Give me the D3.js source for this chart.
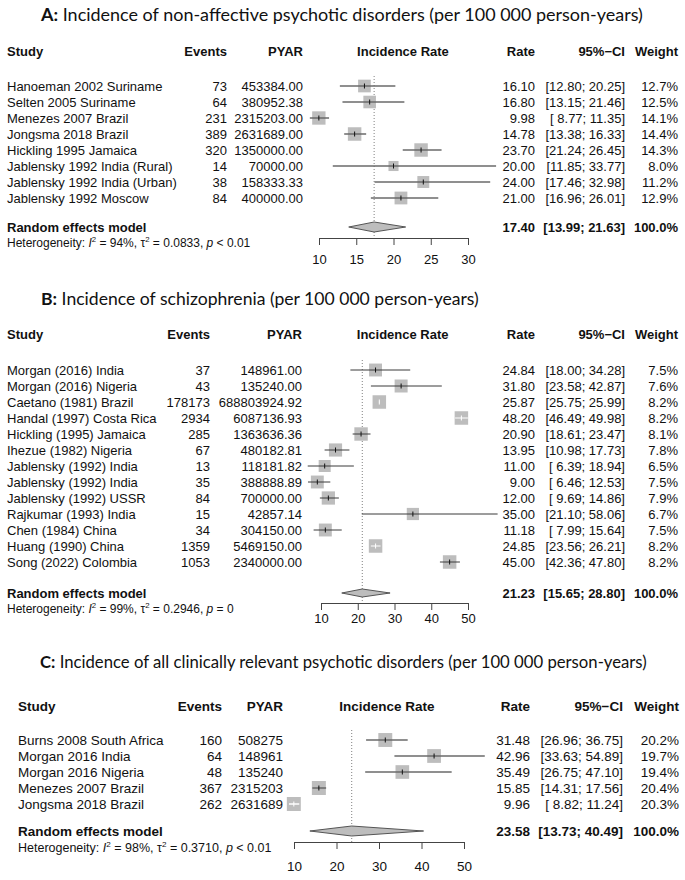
<!DOCTYPE html>
<html><head><meta charset="utf-8">
<script src="https://cdn.jsdelivr.net/npm/d3@7/dist/d3.min.js"></script>
<style>body{margin:0;background:#fff}svg{display:block}</style>
</head><body>
<svg id="chart" width="685" height="880"></svg>
<script>
// ---------- Panel A data ----------
const titleA = ["A:", " Incidence of non-affective psychotic disorders (per 100 000 person-years)"];
const studiesA = ["Hanoeman 2002 Suriname","Selten 2005 Suriname","Menezes 2007 Brazil","Jongsma 2018 Brazil","Hickling 1995 Jamaica","Jablensky 1992 India (Rural)","Jablensky 1992 India (Urban)","Jablensky 1992 Moscow"];
const eventsA = [73,64,231,389,320,14,38,84];
const pyarA = [453384.00,380952.38,2315203.00,2631689.00,1350000.00,70000.00,158333.33,400000.00];
const rateA = [16.10,16.80,9.98,14.78,23.70,20.00,24.00,21.00];
const lowerA = [12.80,13.15,8.77,13.38,21.24,11.85,17.46,16.96];
const upperA = [20.25,21.46,11.35,16.33,26.45,33.77,32.98,26.01];
const weightA = [12.7,12.5,14.1,14.4,14.3,8.0,11.2,12.9];
const pooledA = [17.40,13.99,21.63];
const hetA = ["94%","0.0833","<","0.01"];
const ticksA = [10,15,20,25,30];

// ---------- Panel B data ----------
const titleB = ["B:", " Incidence of schizophrenia (per 100 000 person-years)"];
const studiesB = ["Morgan (2016) India","Morgan (2016) Nigeria","Caetano (1981) Brazil","Handal (1997) Costa Rica","Hickling (1995) Jamaica","Ihezue (1982) Nigeria","Jablensky (1992) India","Jablensky (1992) India","Jablensky (1992) USSR","Rajkumar (1993) India","Chen (1984) China","Huang (1990) China","Song (2022) Colombia"];
const eventsB = [37,43,178173,2934,285,67,13,35,84,15,34,1359,1053];
const pyarB = [148961.00,135240.00,688803924.92,6087136.93,1363636.36,480182.81,118181.82,388888.89,700000.00,42857.14,304150.00,5469150.00,2340000.00];
const rateB = [24.84,31.80,25.87,48.20,20.90,13.95,11.00,9.00,12.00,35.00,11.18,24.85,45.00];
const lowerB = [18.00,23.58,25.75,46.49,18.61,10.98,6.39,6.46,9.69,21.10,7.99,23.56,42.36];
const upperB = [34.28,42.87,25.99,49.98,23.47,17.73,18.94,12.53,14.86,58.06,15.64,26.21,47.80];
const weightB = [7.5,7.6,8.2,8.2,8.1,7.8,6.5,7.5,7.9,6.7,7.5,8.2,8.2];
const pooledB = [21.23,15.65,28.80];
const hetB = ["99%","0.2946","=","0"];
const ticksB = [10,20,30,40,50];

// ---------- Panel C data ----------
const titleC = ["C:", " Incidence of all clinically relevant psychotic disorders (per 100 000 person-years)"];
const studiesC = ["Burns 2008 South Africa","Morgan 2016 India","Morgan 2016 Nigeria","Menezes 2007 Brazil","Jongsma 2018 Brazil"];
const eventsC = [160,64,48,367,262];
const pyarC = [508275,148961,135240,2315203,2631689];
const rateC = [31.48,42.96,35.49,15.85,9.96];
const lowerC = [26.96,33.63,26.75,14.31,8.82];
const upperC = [36.75,54.89,47.10,17.56,11.24];
const weightC = [20.2,19.7,19.4,20.4,20.3];
const pooledC = [23.58,13.73,40.49];
const hetC = ["98%","0.3710","<","0.01"];
const ticksC = [10,20,30,40,50];

// ---------- layout (positions / styles) ----------
const svg = d3.select("#chart");
const SANS = "'Liberation Sans', Arial, Helvetica, sans-serif";
const TITLEFONT = "Lato, 'Open Sans', sans-serif";

const panels = [
  {title:titleA, studies:studiesA, events:eventsA, pyar:pyarA, pyarDec:2, rate:rateA, lower:lowerA, upper:upperA, weight:weightA, pooled:pooledA, het:hetA, ticks:ticksA,
   L:{titleX:41, titleY:14, titleW:602, header:51, row0:86, step:16, random:227, het:243, axis:238, tickLab:262,
      xStudy:7, evR:227, pyR:303, rateR:535, ciR:625, wR:678, axisRange:[319,468], fs:13, hetFs:12, sq:13.5, lineCol:"#6a6a6a", lineW:1.5, dh:5}},
  {title:titleB, studies:studiesB, events:eventsB, pyar:pyarB, pyarDec:2, rate:rateB, lower:lowerB, upper:upperB, weight:weightB, pooled:pooledB, het:hetB, ticks:ticksB,
   L:{titleX:41, titleY:298, titleW:438, header:334, row0:370, step:16, random:593, het:609, axis:603, tickLab:621,
      xStudy:7, evR:210, pyR:302, rateR:535, ciR:625, wR:678, axisRange:[321,468], fs:13, hetFs:12, sq:13.5, lineCol:"#3a3a3a", lineW:1, dh:4}},
  {title:titleC, studies:studiesC, events:eventsC, pyar:pyarC, pyarDec:0, rate:rateC, lower:lowerC, upper:upperC, weight:weightC, pooled:pooledC, het:hetC, ticks:ticksC,
   L:{titleX:40, titleY:662, titleW:607, header:706, row0:740, step:16, random:831, het:848, axis:842, tickLab:868,
      xStudy:18, evR:222, pyR:283, rateR:530, ciR:623, wR:679, axisRange:[294,464], fs:13.5, hetFs:12.5, sq:14, lineCol:"#6a6a6a", lineW:1.5, dh:5}}
];

const f2 = v => v.toFixed(2);
const ciStr = (lo, hi) => "[" + f2(lo).padStart(5, " ") + "; " + f2(hi).padStart(5, " ") + "]";

panels.forEach(p => {
  const L = p.L;
  const g = svg.append("g");
  const x = d3.scaleLinear().domain([p.ticks[0], p.ticks[p.ticks.length - 1]]).range(L.axisRange);
  const y = i => L.row0 + i * L.step;

  // title, fitted to width
  const t = g.append("text").attr("x", L.titleX).attr("y", L.titleY)
    .attr("font-family", TITLEFONT).attr("font-size", 17).attr("dominant-baseline", "central").attr("fill", "#111");
  t.append("tspan").attr("font-weight", "bold").text(p.title[0]);
  t.append("tspan").text(p.title[1]);
  const tw = t.node().getComputedTextLength();
  t.attr("font-size", 17 * L.titleW / tw);

  const txt = (xx, yy, s, anchor, bold, size) => g.append("text")
    .attr("x", xx).attr("y", yy).attr("text-anchor", anchor || "start")
    .attr("dominant-baseline", "central").attr("font-family", SANS)
    .attr("font-size", size || L.fs).attr("font-weight", bold ? "bold" : "normal")
    .attr("fill", "#111").style("white-space", "pre").text(s);

  // header
  const fLo = d3.min(p.lower), fHi = d3.max(p.upper);
  const cx = (x(fLo) + x(fHi)) / 2;
  txt(L.xStudy, L.header, "Study", "start", true);
  txt(L.evR, L.header, "Events", "end", true);
  txt(L.pyR, L.header, "PYAR", "end", true);
  txt(cx, L.header, "Incidence Rate", "middle", true);
  txt(L.rateR, L.header, "Rate", "end", true);
  txt(L.ciR, L.header, "95%\u2212CI", "end", true);
  txt(L.wR, L.header, "Weight", "end", true);

  // reference dotted line
  g.append("line").attr("x1", x(p.pooled[0])).attr("x2", x(p.pooled[0]))
    .attr("y1", L.row0 - 10).attr("y2", L.axis)
    .attr("stroke", "#808080").attr("stroke-width", 1).attr("stroke-dasharray", "1,2");

  const wmax = d3.max(p.weight);
  p.studies.forEach((s, i) => {
    const yy = y(i);
    txt(L.xStudy, yy, s, "start");
    txt(L.evR, yy, String(p.events[i]), "end");
    txt(L.pyR, yy, p.pyar[i].toFixed(p.pyarDec), "end");
    txt(L.rateR, yy, f2(p.rate[i]), "end");
    txt(L.ciR, yy, ciStr(p.lower[i], p.upper[i]), "end");
    txt(L.wR, yy, p.weight[i].toFixed(1) + "%", "end");

    const xc = x(p.rate[i]);
    const sz = L.sq * Math.sqrt(p.weight[i] / wmax);
    g.append("rect").attr("x", xc - sz / 2).attr("y", yy - sz / 2)
      .attr("width", sz).attr("height", sz).attr("fill", "#bdbdbd");
    const inside = x(p.lower[i]) >= xc - sz / 2 && x(p.upper[i]) <= xc + sz / 2;
    g.append("line").attr("x1", x(p.lower[i])).attr("x2", x(p.upper[i]))
      .attr("y1", yy).attr("y2", yy)
      .attr("stroke", inside ? "#ffffff" : L.lineCol).attr("stroke-width", L.lineW);
    g.append("line").attr("x1", xc).attr("x2", xc).attr("y1", yy - 2.5).attr("y2", yy + 2.5)
      .attr("stroke", inside ? "#ffffff" : "#111").attr("stroke-width", 1);
  });

  // pooled row
  txt(L.xStudy, L.random, "Random effects model", "start", true);
  txt(L.rateR, L.random, f2(p.pooled[0]), "end", true);
  txt(L.ciR, L.random, ciStr(p.pooled[1], p.pooled[2]), "end", true);
  txt(L.wR, L.random, "100.0%", "end", true);
  const dpts = [[x(p.pooled[1]), L.random], [x(p.pooled[0]), L.random - L.dh],
                [x(p.pooled[2]), L.random], [x(p.pooled[0]), L.random + L.dh]];
  g.append("polygon").attr("points", dpts.map(d => d.join(",")).join(" "))
    .attr("fill", "#bdbdbd").attr("stroke", "#555").attr("stroke-width", 1);

  // heterogeneity
  const h = g.append("text").attr("x", L.xStudy).attr("y", L.het)
    .attr("dominant-baseline", "central").attr("font-family", SANS)
    .attr("font-size", L.hetFs).attr("fill", "#111").style("white-space", "pre");
  h.append("tspan").text("Heterogeneity: ");
  h.append("tspan").attr("font-style", "italic").text("I");
  h.append("tspan").attr("font-size", L.hetFs * 0.65).attr("dy", -4).text("2");
  h.append("tspan").attr("dy", 4).text(" = " + p.het[0] + ", \u03c4");
  h.append("tspan").attr("font-size", L.hetFs * 0.65).attr("dy", -4).text("2");
  h.append("tspan").attr("dy", 4).text(" = " + p.het[1] + ", ");
  h.append("tspan").attr("font-style", "italic").text("p");
  h.append("tspan").text(" " + p.het[2] + " " + p.het[3]);

  // axis
  const ax = g.append("g").attr("transform", `translate(0,${L.axis})`)
    .call(d3.axisBottom(x).tickValues(p.ticks).tickSize(7).tickSizeOuter(0).tickPadding(L.tickLab - L.axis - 14));
  ax.selectAll("path,line").attr("stroke", "#444");
  ax.selectAll("text").attr("font-family", SANS).attr("font-size", L.fs).attr("fill", "#111");
});
</script>
</body></html>
